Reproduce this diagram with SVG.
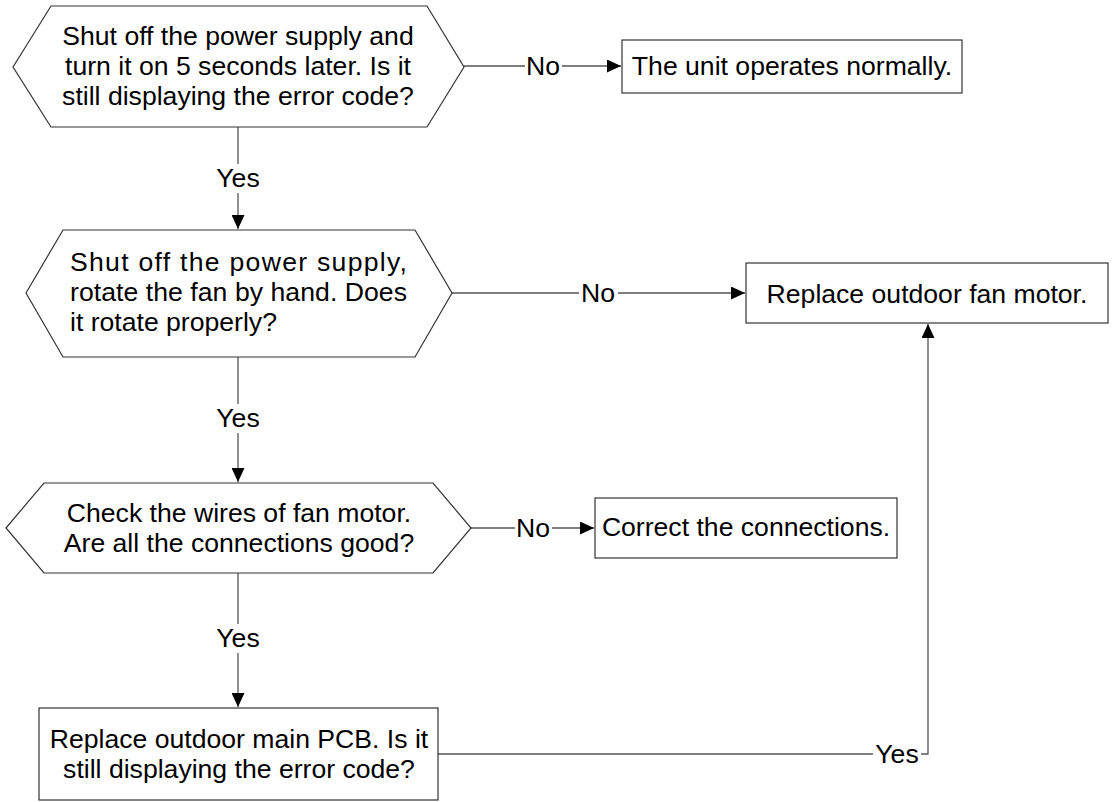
<svg xmlns="http://www.w3.org/2000/svg" width="1113" height="802" viewBox="0 0 1113 802">
<style>
.shape{fill:#fff;stroke:#333;stroke-width:1.2}
.ln{fill:none;stroke:#555;stroke-width:1.3}
text{font-family:"Liberation Sans",Arial,sans-serif;font-size:26.6px;fill:#000}
.c{text-anchor:middle}
.lbl{text-anchor:middle;dominant-baseline:central}
</style>
<defs>
<marker id="arr" markerUnits="userSpaceOnUse" markerWidth="15" markerHeight="13" refX="14" refY="6.5" orient="auto">
<path d="M0,0 L14,6.5 L0,13 z" fill="#000"/>
</marker>
</defs>
<rect width="1113" height="802" fill="#fff"/>
<g id="connectors">
<path class="ln" d="M464,66 H525"/>
<path class="ln" d="M562,66 H621" marker-end="url(#arr)"/>
<path class="ln" d="M238,127 V164"/>
<path class="ln" d="M238,193 V229" marker-end="url(#arr)"/>
<path class="ln" d="M452,293 H579"/>
<path class="ln" d="M618,293 H745" marker-end="url(#arr)"/>
<path class="ln" d="M238,357 V404"/>
<path class="ln" d="M238,433 V482" marker-end="url(#arr)"/>
<path class="ln" d="M471,528 H515"/>
<path class="ln" d="M552,528 H594" marker-end="url(#arr)"/>
<path class="ln" d="M238,573 V624"/>
<path class="ln" d="M238,653 V707" marker-end="url(#arr)"/>
<path class="ln" d="M438,754 H873"/>
<path class="ln" d="M921,754 H928 V324" marker-end="url(#arr)"/>
<text class="lbl" x="543" y="66">No</text>
<text class="lbl" x="238" y="178">Yes</text>
<text class="lbl" x="598" y="293">No</text>
<text class="lbl" x="238" y="418">Yes</text>
<text class="lbl" x="533" y="528">No</text>
<text class="lbl" x="238" y="638">Yes</text>
<text class="lbl" x="897" y="754">Yes</text>
</g>
<g id="q1">
<polygon class="shape" points="13,67 51,6 427,6 464,67 427,127 51,127"/>
<text class="c" x="238" y="45">Shut off the power supply and</text>
<text class="c" x="238" y="75">turn it on 5 seconds later. Is it</text>
<text class="c" x="238" y="105">still displaying the error code?</text>
</g>
<g id="r1">
<rect class="shape" x="622" y="40" width="340" height="53"/>
<text class="c" x="792" y="75">The unit operates normally.</text>
</g>
<g id="q2">
<polygon class="shape" points="26,293 63,230 415,230 452,293 415,357 63,357"/>
<text x="70" y="271" textLength="337" lengthAdjust="spacing">Shut off the power supply,</text>
<text x="70" y="301" textLength="337" lengthAdjust="spacing">rotate the fan by hand. Does</text>
<text x="70" y="331">it rotate properly?</text>
</g>
<g id="r2">
<rect class="shape" x="746" y="263" width="362" height="60"/>
<text class="c" x="927" y="303">Replace outdoor fan motor.</text>
</g>
<g id="q3">
<polygon class="shape" points="6,528 44,483 433,483 471,528 433,573 44,573"/>
<text class="c" x="239" y="522">Check the wires of fan motor.</text>
<text class="c" x="239" y="552">Are all the connections good?</text>
</g>
<g id="r3">
<rect class="shape" x="595" y="498" width="302" height="60"/>
<text class="c" x="746" y="536">Correct the connections.</text>
</g>
<g id="q4">
<rect class="shape" x="39" y="708" width="399" height="92"/>
<text class="c" x="239" y="748">Replace outdoor main PCB. Is it</text>
<text class="c" x="239" y="778">still displaying the error code?</text>
</g>
</svg>
